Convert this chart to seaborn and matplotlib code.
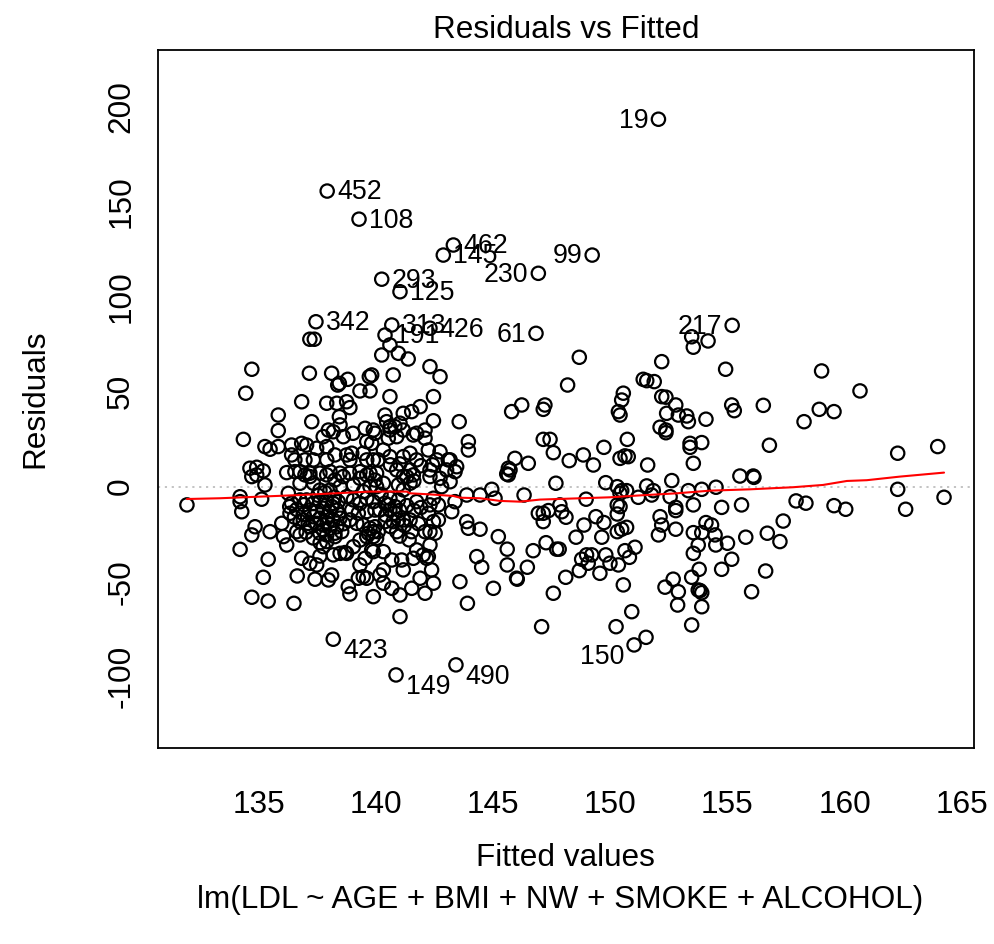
import numpy as np
import pandas as pd
import matplotlib
matplotlib.use("Agg")
import matplotlib.pyplot as plt
import seaborn as sns

# ---------------- data ----------------
# right-hand, sparse part (positive residuals)
fitted_right_a = [153.47,154.17,153.54,148.67,152.19,154.92,148.17,151.40,151.55,151.87,
                  150.55,150.48,150.34,150.41,146.21,145.78,147.20,147.13,152.19,152.37,
                  152.79,152.40,152.90,153.26,153.33,154.08,155.18,155.29,156.53,152.12,
                  152.37,152.37,147.13,147.42,147.56,148.24,148.84,149.27,149.72,150.41,
                  150.62,150.76,150.72,145.92,146.49,145.71,151.59,153.40,153.40,153.90,
                  153.54,155.53,156.10]
resid_right_a = [78.9,76.7,73.4,68.1,65.8,61.8,53.5,56.5,55.8,55.3,
                 49.2,45.6,39.5,37.7,43.0,39.5,43.0,40.7,47.4,47.1,
                 43.0,38.6,37.7,37.2,34.2,35.5,43.0,40.0,42.8,31.3,
                 29.8,28.4,24.9,24.9,17.9,13.7,16.7,11.4,20.7,14.9,
                 16.2,15.8,24.9,14.9,12.3,8.8,11.4,22.8,20.7,23.2,
                 12.3,5.6,5.6]

# right-hand part around and below zero
fitted_right_b = [152.62,149.80,147.67,150.29,150.48,150.69,150.41,151.55,151.83,151.76,
                  151.19,146.31,148.96,153.33,153.90,154.51,152.55,153.54,154.75,155.60,
                  152.79,152.79,146.92,147.13,147.35,147.13,147.84,147.92,148.10,150.29,
                  150.29,150.41,149.38,149.72,148.87,152.12,152.19,152.79,154.08,154.32,
                  150.29,150.48,150.69,148.53,149.63,152.05,153.54,153.90,154.47,153.75,
                  155.78,147.25,147.70,147.81,146.70,154.50,155.00,151.05,150.62,150.81,
                  148.98,149.20,148.77,149.05,149.80,149.98,150.34,153.54,155.18,148.67,
                  149.55,153.79,153.47,154.75,146.45,146.02,148.09,150.55,152.68,152.33,
                  152.90,152.87,153.75,153.83,153.90,153.90,156.03,147.56,150.91,147.06,
                  150.24,153.47,151.52]
resid_right_b = [3.2,2.1,1.8,0.0,-2.1,-2.1,-3.5,0.4,-2.1,-4.4,
                 -5.6,-4.4,-6.6,-2.1,-1.4,-0.3,-5.3,-9.6,-10.9,-9.6,
                 -10.9,-12.6,-14.0,-14.0,-12.6,-18.4,-9.6,-13.2,-16.1,-9.6,
                 -14.4,-10.5,-15.8,-18.9,-20.2,-15.8,-20.2,-22.4,-18.9,-20.2,
                 -23.7,-22.4,-21.4,-26.6,-26.6,-25.4,-24.2,-24.2,-25.4,-30.7,
                 -26.6,-29.5,-32.9,-32.9,-33.7,-30.7,-29.8,-31.9,-33.7,-37.2,
                 -35.9,-35.9,-38.2,-40.3,-35.9,-40.3,-41.2,-35.1,-38.2,-44.2,
                 -45.6,-43.5,-47.7,-43.5,-42.4,-48.7,-47.7,-51.7,-48.7,-52.9,
                 -55.3,-62.3,-54.4,-54.7,-55.8,-63.2,-55.3,-56.1,-65.8,-73.7,
                 -73.7,-72.8,-79.3]

# far right
fitted_far = [159.02,160.66,158.92,159.55,158.27,156.79,162.27,163.98,156.13,162.27,
              157.93,158.35,159.55,160.05,162.61,164.25,157.38,156.70,157.24,156.63]
resid_far = [60.9,50.4,40.7,39.5,34.2,21.8,17.6,21.1,4.9,-1.4,
             -7.5,-8.7,-10.0,-11.9,-11.9,-5.6,-18.1,-24.5,-28.9,-44.4]

# middle, positive residuals
fitted_mid_a = [140.58,140.23,140.94,141.36,142.29,142.72,140.72,140.58,142.44,141.87,
                141.51,141.15,140.37,140.44,140.58,142.44,143.54,143.93,143.93,145.64,
                145.64,141.15,141.72,142.08,142.08,142.72,143.07,143.43]
resid_mid_a = [74.6,69.3,70.2,67.2,63.2,57.9,58.8,47.4,47.4,42.1,
               39.5,38.6,37.7,34.2,29.8,34.7,34.2,23.7,19.3,9.7,
               6.2,29.8,28.1,29.8,25.5,18.4,14.1,10.5]
fitted_mid_b = [140.58,140.79,141.01,141.58,140.87,140.51,139.87,139.80,140.30,140.08,
                140.58,141.15,141.44,141.72,142.22,142.58,143.15,143.00,142.29,141.44,
                140.87,140.01,141.15]
resid_mid_b = [31.6,31.6,33.4,27.2,26.3,25.5,29.8,22.8,19.3,14.1,
               15.8,15.8,17.6,14.1,19.3,14.1,14.1,8.8,8.8,8.8,
               8.8,7.1,5.3]

# middle, negative residuals
fitted_mid_c = [141.01,143.57,143.89,144.29,144.50,145.00,145.59,145.99,145.21,145.59,
                143.86,143.93,144.43,143.22,143.36,143.86,144.43,144.93,145.07,145.57]
resid_mid_c = [-68.4,-50.0,-61.4,-36.8,-42.4,-53.5,-41.2,-48.2,-26.3,-32.9,
               -18.4,-21.9,-22.4,-13.2,-7.9,-4.4,-4.4,-1.4,-6.1,6.7]
fitted_mid_d = [142.44,142.08,141.51,141.01,140.66,140.30,140.15,142.36,141.87,141.15,
                140.30,141.72,142.00,142.22,142.29,142.15,141.58,141.08,140.66,140.30,
                139.80]
resid_mid_d = [-50.8,-56.1,-53.5,-57.0,-53.5,-50.8,-46.5,-43.8,-48.2,-43.8,
               -43.8,-33.3,-35.9,-36.8,-30.7,-37.7,-37.7,-38.6,-38.6,-34.2,
               -33.3]
fitted_mid_e = [142.51,142.44,142.65,142.29,142.08,141.44,141.15,140.94,140.72,140.87,
                141.51,140.37,139.87,140.01,
                140.58,140.37,140.58,140.94,140.15,140.79,141.15,141.72,142.29,142.44,
                142.22,142.65,
                140.01,140.30,140.94,141.30,141.58,141.44,142.29,142.79,143.15,143.36,
                142.72]
resid_mid_e = [-24.5,-18.4,-17.5,-23.7,-23.7,-17.5,-17.5,-17.5,-18.4,-23.7,
               -23.7,-18.4,-23.7,-27.2,
               -12.3,-8.7,-6.1,-7.0,-12.3,-14.0,-1.7,-7.9,-9.6,-6.1,
               -14.0,-9.6,
               0.0,1.8,0.9,5.3,6.2,1.8,5.3,0.0,2.6,7.9,
               4.4]
fitted_mid_f = [140.2,140.5,140.8,141.0,141.3,141.6,141.9,140.4,141.2,141.8,
                140.6,141.0,141.4,140.6,141.0,141.9,142.4,141.6]
resid_mid_f = [-4.0,-9.5,-10.5,-12.5,-10.0,-12.5,-11.0,-15.0,-20.5,-19.5,
               -21.0,-26.0,-28.0,11.5,12.0,11.0,11.5,3.0]

# left, positive residuals
fitted_left_a = [134.68,134.42,137.16,137.35,137.14,138.09,138.35,138.42,138.78,139.30,
                 139.73,139.70,139.80,136.81,137.88,138.31,138.73,138.87,135.81,137.24,
                 138.42,135.81,138.45,134.32,137.95,138.16,137.73,139.52,139.94,138.59,
                 139.00]
resid_left_a = [61.8,49.2,77.6,77.6,59.7,59.7,53.5,54.4,56.5,50.4,
                50.4,57.9,58.8,44.7,43.9,43.9,44.7,41.6,37.7,34.2,
                36.8,29.5,32.5,24.9,29.8,28.9,26.3,30.7,28.1,26.3,
                28.1]
fitted_left_b = [135.24,135.46,135.81,136.38,136.81,137.02,137.45,137.88,139.59,139.44,
                 136.38,136.52,136.95,137.31,134.60,134.89,135.17,136.17,137.88,138.23,
                 138.73,138.95,138.87,139.59,139.87,
                 136.74,137.16,137.59,138.02,138.45,138.87,139.30,139.73]
resid_left_b = [21.1,19.7,21.1,21.9,22.8,21.9,20.2,21.1,23.7,17.6,
                16.7,14.1,14.1,14.1,9.7,10.2,8.3,7.4,14.1,16.7,
                16.7,17.6,14.1,14.1,14.1,
                7.9,7.1,7.1,7.9,7.1,7.1,7.9,7.1]

# left, negative residuals
fitted_left_c = [134.68,134.89,135.24,136.52,136.95,137.16,134.18,134.18,134.25,135.10,
                 136.24,136.38,136.74,136.31,
                 134.82,134.68,135.46,135.96,136.03,136.17,136.74,136.74,136.60,134.18,
                 135.38,135.17,134.68,135.38,136.48,136.62]
resid_left_c = [5.3,6.2,0.9,7.9,6.2,5.3,-5.3,-7.9,-13.2,-6.6,
                -3.5,-8.7,-7.0,-14.0,
                -21.1,-25.4,-23.7,-19.3,-26.3,-30.7,-18.4,-25.4,-23.7,-33.0,
                -38.2,-47.7,-58.2,-60.2,-61.4,-47.0]
fitted_left_d = [136.81,137.16,137.45,137.38,137.95,138.09,137.59,137.73,138.16,138.45,
                 138.66,138.80,138.87,139.23,139.44,139.59,139.87,139.30,139.52,139.87,
                 139.59,139.94,
                 137.88,138.23,137.73,137.16,137.45,136.88,131.91]
resid_left_d = [-37.7,-40.3,-41.2,-48.7,-49.1,-46.5,-36.5,-31.6,-35.9,-35.1,
                -34.7,-52.6,-56.5,-48.2,-47.4,-48.2,-57.9,-41.2,-37.7,-34.2,
                -26.3,-21.1,
                -28.9,-26.3,-22.8,-21.1,-19.3,-17.5,-9.6]

# dense core of the cloud
fitted_core = [137.02,137.31,137.59,137.88,138.16,138.37,137.17,137.45,137.73,138.02,
               138.31,137.31,137.59,137.88,138.16,138.45,137.09,137.73,138.02,138.31,
               137.59,137.88,138.23,138.52,
               138.73,139.02,139.30,139.59,139.87,138.95,139.23,139.59,139.94,138.87,
               139.16,139.44,139.73,139.66,139.87,140.08,139.30,139.02,138.73,
               137.88,138.23,138.59,139.30,139.59,139.94,138.45,139.02,139.73,137.31,
               136.74,137.59,139.44,138.02]
resid_core = [-7.0,-8.8,-7.9,-7.0,-8.8,-7.9,-12.3,-13.1,-11.4,-13.1,
              -12.3,-15.8,-16.6,-15.8,-17.5,-16.6,-19.3,-20.2,-21.9,-21.1,
              -24.5,-25.4,-24.5,-23.7,
              -5.3,-7.0,-8.8,-6.1,-7.9,-12.3,-14.0,-13.1,-12.3,-17.5,
              -19.3,-20.2,-21.9,-24.5,-26.3,-23.7,-28.1,-31.6,-35.1,
              6.2,3.5,5.3,4.4,6.2,3.5,0.0,0.9,0.0,1.8,
              1.8,-1.8,-2.6,-1.8]
fitted_core_b = [136.3,136.6,136.9,136.5,136.9,137.0,137.3,137.6,137.9,138.1,
                 138.4,138.6,137.5,137.8,138.2]
resid_core_b = [-10.5,-12.0,-9.5,-16.0,-14.5,-24.0,-27.0,-29.5,-19.0,-10.5,
                -14.5,-19.5,-4.5,-3.0,-5.5]

# labelled observations (largest residuals)
id_labels = ["19", "452", "108", "462", "145", "99", "230", "293", "125", "61",
             "217", "342", "313", "426", "191", "423", "150", "149", "490"]
id_fitted = [152.05, 137.90, 139.26, 143.29, 142.86, 149.22, 146.92, 140.23, 141.01, 146.82,
             155.20, 137.42, 140.66, 142.29, 140.37, 138.16, 151.01, 140.84, 143.40]
id_resid = [193.4, 155.6, 140.8, 127.2, 121.9, 121.9, 112.3, 109.2, 102.6, 80.7,
            84.9, 86.8, 85.1, 83.4, 79.8, -80.3, -83.3, -99.1, -93.8]
id_side = ["left", "right", "right", "right", "right", "left", "left", "right", "right", "left",
           "left", "right", "right", "right", "right", "right", "left", "right", "right"]

# red smoother
smooth_fitted = [131.91, 133.32, 136.74, 139.73, 141.30, 141.44, 142.21, 143.29, 143.57, 144.43,
                 145.28, 146.14, 146.99, 149.98, 151.39, 152.83, 154.25, 155.96, 157.80, 159.08,
                 160.10, 160.95, 162.37, 164.25]
smooth_resid = [-6.5, -6.1, -4.4, -2.6, -2.6, -3.5, -4.0, -4.9, -5.8, -6.1,
                -7.5, -7.9, -6.8, -5.6, -4.5, -3.5, -2.1, -1.4, -0.3, 0.9,
                3.0, 3.4, 5.3, 7.4]

x_ticks = [135, 140, 145, 150, 155, 160, 165]
y_ticks = [-100, -50, 0, 50, 100, 150, 200]

title = "Residuals vs Fitted"
x_label = "Fitted values"
y_label = "Residuals"
sub_label = "lm(LDL ~ AGE + BMI + NW + SMOKE + ALCOHOL)"

# ---------------- assemble ----------------
fitted = np.concatenate([fitted_right_a, fitted_right_b, fitted_far, fitted_mid_a, fitted_mid_b,
                         fitted_mid_c, fitted_mid_d, fitted_mid_e, fitted_mid_f, fitted_left_a,
                         fitted_left_b, fitted_left_c, fitted_left_d, fitted_core, fitted_core_b,
                         id_fitted])
resid = np.concatenate([resid_right_a, resid_right_b, resid_far, resid_mid_a, resid_mid_b,
                        resid_mid_c, resid_mid_d, resid_mid_e, resid_mid_f, resid_left_a,
                        resid_left_b, resid_left_c, resid_left_d, resid_core, resid_core_b,
                        id_resid])
df = pd.DataFrame({"fitted": fitted, "resid": resid})
smooth_df = pd.DataFrame({"fitted": smooth_fitted, "resid": smooth_resid})

sns.set_theme(style="white")
plt.rcParams["font.family"] = ["Liberation Sans", "DejaVu Sans"]
plt.rcParams["text.color"] = "black"
plt.rcParams["axes.labelcolor"] = "black"
plt.rcParams["xtick.color"] = "black"
plt.rcParams["ytick.color"] = "black"

W, H = 994, 944
FS = 22.7
fig = plt.figure(figsize=(W / 100, H / 100), dpi=100)
L, R, T, B = 157.7, 974.0, 49.7, 747.7
ax = fig.add_axes([L / W, 1 - B / H, (R - L) / W, (B - T) / H])

ax.axhline(0, color="#BEBEBE", lw=1.3, ls=(0, (1.2, 2.6)), zorder=1)
sns.scatterplot(data=df, x="fitted", y="resid", ax=ax, marker="o", s=92,
                facecolor="none", edgecolor="black", linewidth=1.6, zorder=2, legend=False)
sns.lineplot(data=smooth_df, x="fitted", y="resid", ax=ax, color="red", lw=1.5,
             sort=False, estimator=None, zorder=3)

for lab, xv, yv, side in zip(id_labels, id_fitted, id_resid, id_side):
    dx = 7.0 if side == "right" else -7.0
    dy = -1.0 if yv > 0 else -8.5
    ax.annotate(lab, (xv, yv), xytext=(dx, dy), textcoords="offset points",
                ha="left" if side == "right" else "right", va="center",
                fontsize=19.3, color="black")

ax.set_xlim(130.66, 165.53)
ax.set_ylim(-137.4, 230.0)
ax.set_xticks(x_ticks)
ax.set_yticks(y_ticks)
ax.set_xticklabels([str(t) for t in x_ticks])
ax.set_yticklabels([str(t) for t in y_ticks], rotation=90, va="center")
ax.tick_params(axis="both", direction="out", length=12.5, width=1.2, colors="black",
               labelsize=FS, labelcolor="black")
ax.tick_params(axis="x", pad=18)
ax.tick_params(axis="y", pad=3)
ax.set_xlabel("")
ax.set_ylabel("")
for sp in ax.spines.values():
    sp.set_visible(True)
    sp.set_color("black")
    sp.set_linewidth(1.3)

cx = (L + R) / 2 / W
fig.text(cx, 1 - 30 / H, title, ha="center", va="center", fontsize=FS, color="black")
fig.text(cx, 1 - 858 / H, x_label, ha="center", va="center", fontsize=FS, color="black")
fig.text(560.5 / W, 1 - 900 / H, sub_label, ha="center", va="center", fontsize=FS, color="black")
fig.text(35 / W, 1 - (T + B) / 2 / H, y_label, ha="center", va="center", rotation=90,
         fontsize=FS, color="black")

fig.savefig("out.png", dpi=100)
